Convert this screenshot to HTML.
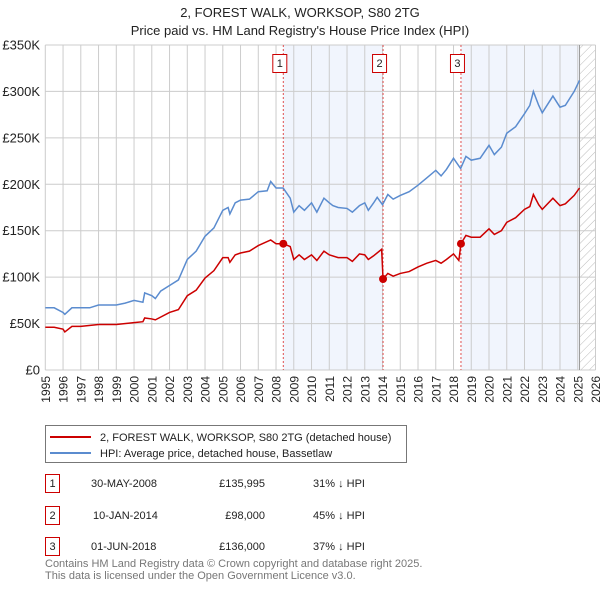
<!DOCTYPE html>
<html><head><meta charset="utf-8"><style>
body{margin:0;background:#fff;width:600px;height:590px;overflow:hidden}
text{font-family:"Liberation Sans","DejaVu Sans",sans-serif}
</style></head><body>
<svg id="c" width="600" height="590" xmlns="http://www.w3.org/2000/svg">
<defs><pattern id="hatch" width="6" height="6" patternUnits="userSpaceOnUse" patternTransform="rotate(45)"><line x1="0" y1="0" x2="0" y2="6" stroke="#bbb" stroke-width="1"/></pattern></defs>
<text x="300" y="17" text-anchor="middle" font-size="13" fill="#222">2, FOREST WALK, WORKSOP, S80 2TG</text>
<text x="300" y="35" text-anchor="middle" font-size="13" fill="#222">Price paid vs. HM Land Registry's House Price Index (HPI)</text>
<g id="plot"></g>
<g>
<rect x="45.5" y="425.5" width="361" height="37" fill="#fff" stroke="#777"/>
<line x1="50" y1="437" x2="91" y2="437" stroke="#cc0000" stroke-width="2"/>
<text x="100" y="441" font-size="11" fill="#222">2, FOREST WALK, WORKSOP, S80 2TG (detached house)</text>
<line x1="50" y1="453" x2="91" y2="453" stroke="#5b8ccf" stroke-width="2"/>
<text x="100" y="457" font-size="11" fill="#222">HPI: Average price, detached house, Bassetlaw</text>
</g>
<g font-size="11" fill="#222">
<rect x="45.5" y="474.5" width="14" height="18" fill="none" stroke="#cc0000"/><text x="52.5" y="487" text-anchor="middle">1</text>
<text x="91" y="487">30-MAY-2008</text><text x="265" y="487" text-anchor="end">£135,995</text><text x="313" y="487">31% ↓ HPI</text>
<rect x="45.5" y="506.5" width="14" height="18" fill="none" stroke="#cc0000"/><text x="52.5" y="519" text-anchor="middle">2</text>
<text x="93" y="519">10-JAN-2014</text><text x="265" y="519" text-anchor="end">£98,000</text><text x="313" y="519">45% ↓ HPI</text>
<rect x="45.5" y="537.5" width="14" height="18" fill="none" stroke="#cc0000"/><text x="52.5" y="550" text-anchor="middle">3</text>
<text x="91" y="550">01-JUN-2018</text><text x="265" y="550" text-anchor="end">£136,000</text><text x="313" y="550">37% ↓ HPI</text>
</g>
<text x="45" y="567" font-size="11" fill="#777">Contains HM Land Registry data © Crown copyright and database right 2025.</text>
<text x="45" y="579" font-size="11" fill="#777">This data is licensed under the Open Government Licence v3.0.</text>
</svg>
<script>
const hpiYears=[1995,1995.5,1996,1996.1,1996.5,1997,1997.5,1998,1998.5,1999,1999.5,2000,2000.5,2000.6,2001,2001.2,2001.5,2002,2002.5,2003,2003.5,2004,2004.5,2005,2005.3,2005.4,2005.7,2006,2006.5,2007,2007.5,2007.7,2008,2008.4,2008.8,2009,2009.3,2009.6,2010,2010.3,2010.7,2011,2011.2,2011.5,2012,2012.3,2012.7,2013,2013.2,2013.5,2013.7,2014,2014.3,2014.6,2015,2015.5,2016,2016.5,2017,2017.3,2017.6,2018,2018.4,2018.7,2019,2019.5,2020,2020.3,2020.7,2021,2021.5,2022,2022.3,2022.5,2022.8,2023,2023.6,2024,2024.3,2024.8,2025.1];
const hpiValues=[67,67,62,60,67,67,67,70,70,70,72,75,73,83,80,77,85,91,97,119,128,144,153,172,175,168,180,183,184,192,193,203,196,196,185,170,177,172,180,170,185,180,177,175,174,170,177,180,172,180,186,178,189,184,188,192,199,207,215,209,216,228,217,230,226,228,242,232,240,255,262,276,285,300,285,277,295,283,285,300,312];
const priceYears=[1995,1995.5,1996,1996.1,1996.5,1997,1998,1999,2000,2000.5,2000.6,2001,2001.2,2002,2002.5,2003,2003.5,2004,2004.5,2005,2005.3,2005.4,2005.7,2006,2006.5,2007,2007.7,2008,2008.41,2008.8,2009,2009.3,2009.6,2010,2010.3,2010.7,2011,2011.5,2012,2012.3,2012.7,2013,2013.2,2013.5,2013.95,2014.03,2014.3,2014.6,2015,2015.5,2016,2016.5,2017,2017.3,2017.6,2018,2018.3,2018.42,2018.7,2019,2019.5,2020,2020.3,2020.7,2021,2021.5,2022,2022.3,2022.5,2022.8,2023,2023.6,2024,2024.3,2024.8,2025.1];
const priceValues=[46,46,44,41,47,47,49,49,51,52,56,55,54,62,65,80,86,99,107,121,121,116,124,126,128,134,140,136,136,133,119,124,119,124,118,128,124,121,121,117,125,124,119,123,130,98,104,101,104,106,111,115,118,115,119,125,118,136,145,143,143,152,146,150,159,164,173,176,189,178,173,185,177,179,188,196];
const saleYears=[2008.41,2014.03,2018.42];
const saleValues=[135.995,98,136];
const saleLabels=["1","2","3"];
const yTicks=[0,50,100,150,200,250,300,350];
const yTickLabels=["£0","£50K","£100K","£150K","£200K","£250K","£300K","£350K"];
const xTicks=[];for(let y=1995;y<=2026;y++)xTicks.push(y);
const dataEnd=2025.1;

const X0=45.3,X1=595.5,Y0=370,Y1=45;
const xs=y=>X0+(y-1995)/(2026-1995)*(X1-X0);
const ys=v=>Y0-v/350*(Y0-Y1);
const NS="http://www.w3.org/2000/svg";
const g=document.getElementById('plot');
function mk(t,a){const e=document.createElementNS(NS,t);for(const k in a)e.setAttribute(k,a[k]);g.appendChild(e);return e;}

let r=mk('rect',{x:xs(saleYears[0]),y:Y1,width:xs(saleYears[1])-xs(saleYears[0]),height:Y0-Y1,fill:'#eef3fc',opacity:0.8});


r=mk('rect',{x:xs(saleYears[2]),y:Y1,width:xs(dataEnd)-xs(saleYears[2]),height:Y0-Y1,fill:'#eef3fc',opacity:0.8});


r=mk('rect',{x:xs(dataEnd),y:Y1,width:X1-xs(dataEnd),height:Y0-Y1,fill:'url(#hatch)'});



yTicks.forEach((v,i)=>{
 const l=mk('line',{x1:X0,x2:X1,y1:ys(v),y2:ys(v),stroke:'#ccc','stroke-width':1});
 
 
 const t=mk('text',{x:40,y:ys(v)+4.5,'text-anchor':'end','font-size':13,fill:'#222'});
 t.textContent=yTickLabels[i];
 
 
});
xTicks.forEach(y=>{
 const l=mk('line',{x1:xs(y),x2:xs(y),y1:Y1,y2:Y0,stroke:'#ccc','stroke-width':1});
 
 
 const t=mk('text',{x:0,y:0,'text-anchor':'end','font-size':12,fill:'#222',transform:`translate(${xs(y)+4.5},376) rotate(-90)`});
 t.textContent=y;
 
 
});
const ax=mk('line',{x1:xs(dataEnd),x2:xs(dataEnd),y1:Y1,y2:Y0,stroke:'#999','stroke-width':1});



saleYears.forEach((y,i)=>{
 const l=mk('line',{x1:xs(y),x2:xs(y),y1:Y1,y2:Y0,stroke:'#e05050','stroke-width':1,'stroke-dasharray':'2,2'});
 
 
});

const hp=mk('polyline',{points:hpiYears.map((y,i)=>xs(y)+','+ys(hpiValues[i])).join(' '),fill:'none',stroke:'#5b8ccf','stroke-width':1.5});


const pp=mk('polyline',{points:priceYears.map((y,i)=>xs(y)+','+ys(priceValues[i])).join(' '),fill:'none',stroke:'#cc0000','stroke-width':1.5});



saleYears.forEach((y,i)=>{
 const c=mk('circle',{cx:xs(y),cy:ys(saleValues[i]),r:4,fill:'#cc0000'});
 
 
 const b=mk('rect',{x:xs(y)-10.5,y:54.5,width:14,height:18,fill:'#fff',stroke:'#cc0000'});
 
 
 const t=mk('text',{x:xs(y)-3.5,y:67,'text-anchor':'middle','font-size':11,fill:'#222'});
 t.textContent=saleLabels[i];
 
 
});
</script>
</body></html>
